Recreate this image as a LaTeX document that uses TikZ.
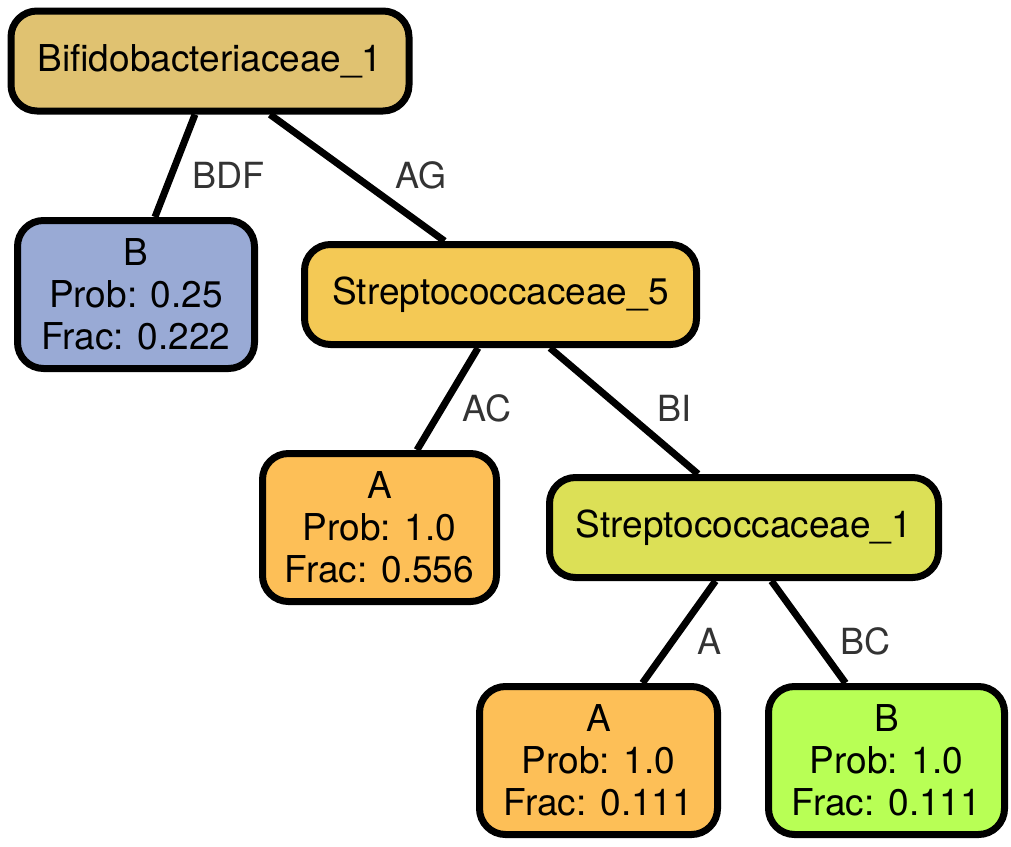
\documentclass[tikz,border=0pt]{standalone}
\usepackage{fontspec}
\setmainfont{TeX Gyre Heros}
\usetikzlibrary{calc}
\pgfdeclarelayer{bg}
\pgfsetlayers{bg,main}
\definecolor{cbifido}{HTML}{E0C271}
\definecolor{cleafB}{HTML}{99AAD5}
\definecolor{cstrepA}{HTML}{F4C955}
\definecolor{cleafA}{HTML}{FDBF57}
\definecolor{cstrepB}{HTML}{DCE056}
\definecolor{cleafG}{HTML}{B8FF55}
\definecolor{elabel}{HTML}{333333}
\begin{document}
\begin{tikzpicture}[x=1pt,y=-1pt,
  box/.style={draw=black, line width=7pt, rounded corners=26pt, rectangle,
    inner sep=0pt, align=center, font=\fontsize{37}{42}\selectfont},
  inner/.style={box, minimum width=#1, minimum height=100pt},
  leaf/.style={box, minimum width=#1, minimum height=148pt},
  edge/.style={draw=black, line width=7pt},
  elab/.style={text=elabel, font=\fontsize{36}{42}\selectfont, inner sep=0pt}]
\useasboundingbox (0,0) rectangle (1011,846);

% tree nodes
\node[inner=398pt, fill=cbifido] (n1) at (210,61) {Bifidobacteriaceae\_1};
\node[leaf=237pt, fill=cleafB] (n2) at (136,294.5) {B\\Prob: 0.25\\Frac: 0.222};
\node[inner=392pt, fill=cstrepA] (n3) at (500.5,294.5) {Streptococcaceae\_5};
\node[leaf=234pt, fill=cleafA] (n4) at (379.5,527.5) {A\\Prob: 1.0\\Frac: 0.556};
\node[inner=389pt, fill=cstrepB] (n5) at (744,527.5) {Streptococcaceae\_1};
\node[leaf=238pt, fill=cleafA] (n6) at (598.5,760.5) {A\\Prob: 1.0\\Frac: 0.111};
\node[leaf=236pt, fill=cleafG] (n7) at (886.5,760.5) {B\\Prob: 1.0\\Frac: 0.111};

% connectors, behind the boxes
\begin{pgfonlayer}{bg}
\draw[edge] ($(n1.south)+(-15,0)$) -- ($(n2.north)+(19,0)$);
\draw[edge] ($(n1.south)+(60,0)$) -- ($(n3.north)+(-56,0)$);
\draw[edge] ($(n3.south)+(-22.5,0)$) -- ($(n4.north)+(37.5,0)$);
\draw[edge] ($(n3.south)+(49.5,0)$) -- ($(n5.north)+(-46,0)$);
\draw[edge] ($(n5.south)+(-28.5,0)$) -- ($(n6.north)+(44,0)$);
\draw[edge] ($(n5.south)+(27.5,0)$) -- ($(n7.north)+(-41,0)$);
\end{pgfonlayer}

% connector labels
\node[elab] (l12) at (228,175) {BDF};
\node[elab] (l13) at (421,175) {AG};
\node[elab] (l34) at (487,408) {AC};
\node[elab] (l35) at (674,408) {BI};
\node[elab] (l56) at (709,641) {A};
\node[elab] (l57) at (865,641) {BC};
\end{tikzpicture}
\end{document}
